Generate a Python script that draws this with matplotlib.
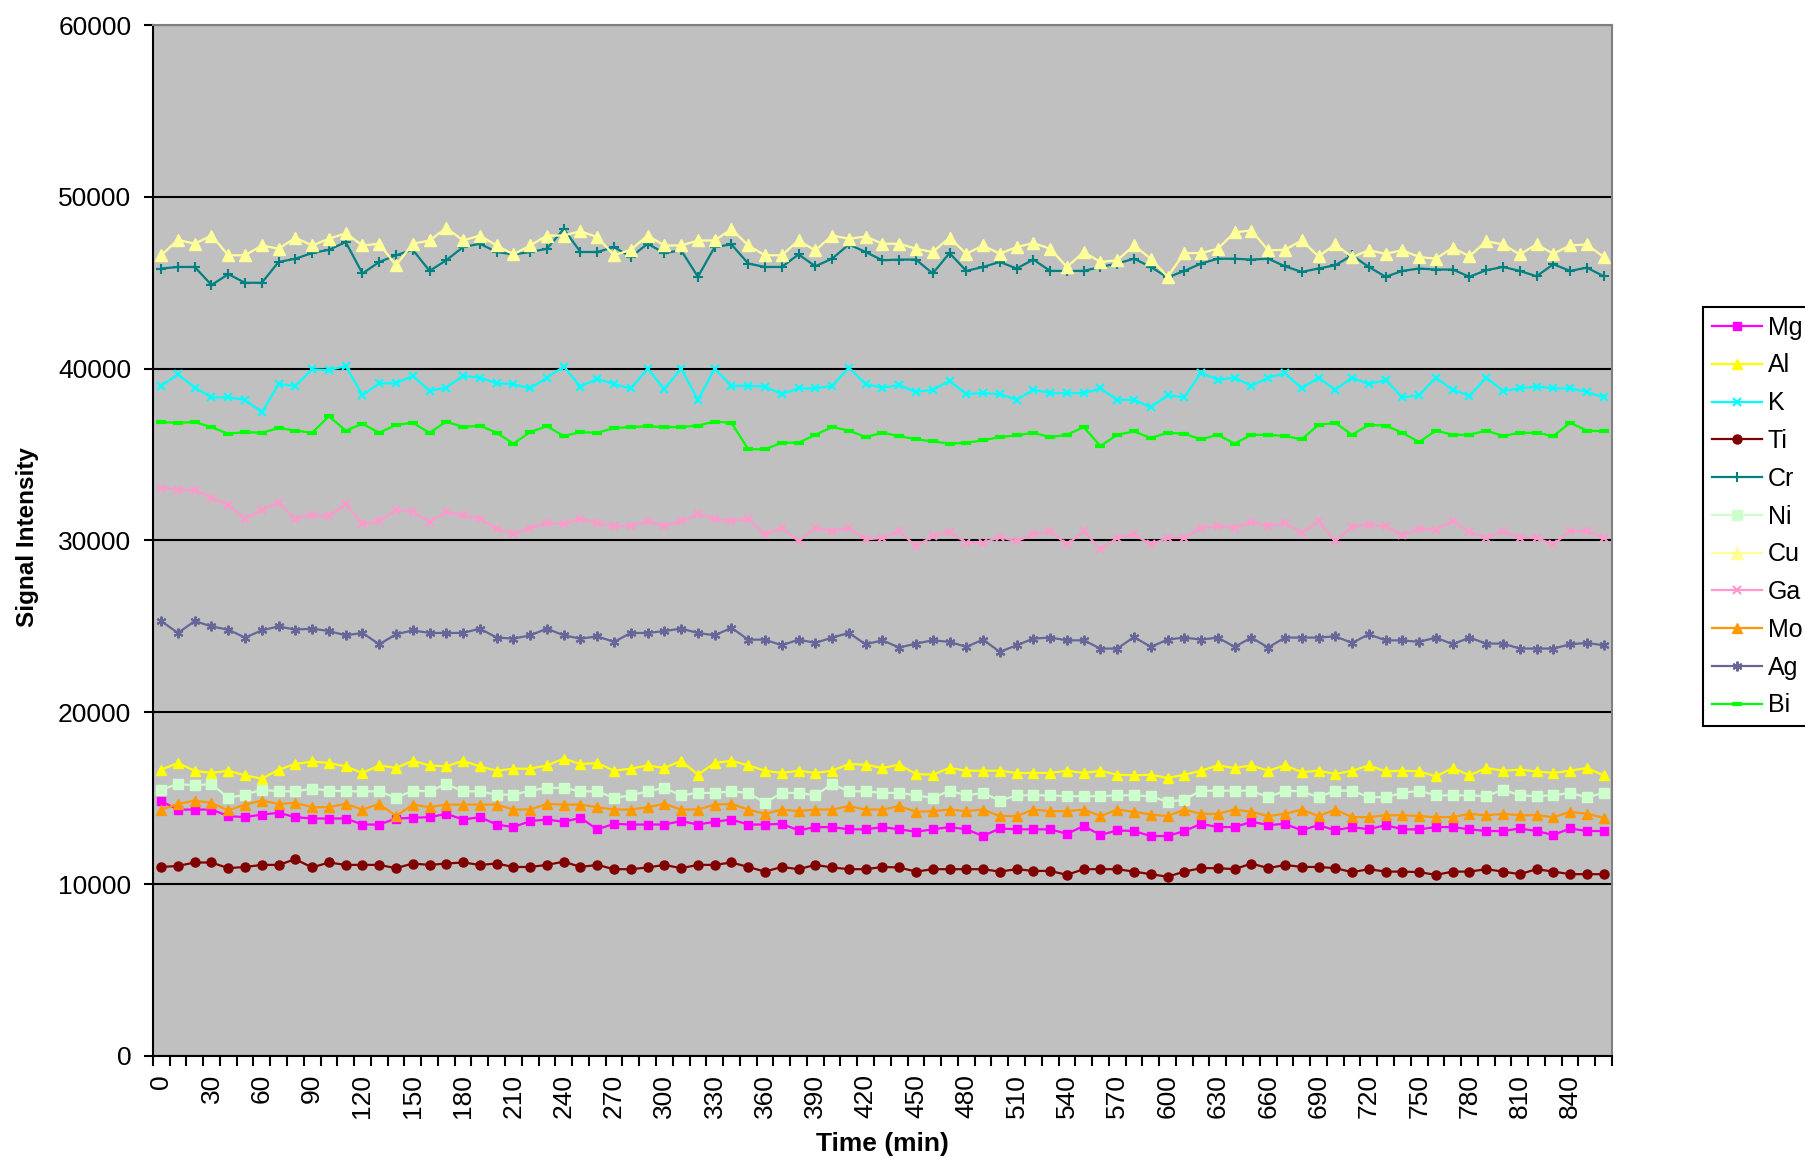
import numpy as np
import matplotlib
matplotlib.use("Agg")
import matplotlib.pyplot as plt
from matplotlib.ticker import FixedLocator, MultipleLocator

plt.rcParams['font.family'] = ['Liberation Sans', 'DejaVu Sans']

# sampling times (min), one point every 10 min
time_min = np.arange(0, 870, 10)
tick_labels = [str(t) for t in range(0, 841, 30)]

elements = ['Mg', 'Al', 'K', 'Ti', 'Cr', 'Ni', 'Cu', 'Ga', 'Mo', 'Ag', 'Bi']

mg = [14830, 14340, 14340, 14340, 13960, 13900, 14050, 14150, 13900, 13820,
      13820, 13820, 13470, 13470, 13820, 13860, 13900, 14090, 13760, 13900,
      13470, 13320, 13670, 13760, 13630, 13860, 13190, 13510, 13470, 13470,
      13470, 13670, 13470, 13630, 13760, 13470, 13470, 13510, 13130, 13320,
      13320, 13190, 13190, 13320, 13190, 13050, 13190, 13320, 13190, 12800,
      13240, 13190, 13190, 13190, 12930, 13380, 12860, 13130, 13090,
      12800, 12800, 13090, 13510, 13320, 13320, 13630, 13440, 13510, 13130,
      13440, 13130, 13320, 13190, 13440, 13190, 13190, 13320, 13320, 13190,
      13090, 13090, 13240, 13090, 12860, 13240, 13090, 13090]
al = [16660, 17050, 16600, 16470, 16600, 16330, 16140, 16660, 16990, 17140,
      17050, 16850, 16470, 16910, 16760, 17180, 16910, 16850, 17180, 16850,
      16600, 16720, 16720, 16910, 17300, 16990, 17050, 16600, 16720, 16910,
      16760, 17180, 16370, 17050, 17180, 16910, 16600, 16470, 16600, 16470,
      16600, 16990, 16950, 16760, 16950, 16410, 16370, 16760, 16600, 16600,
      16600, 16470, 16470, 16470, 16600, 16470, 16600, 16370, 16330,
      16370, 16180, 16370, 16600, 16910, 16760, 16910, 16600, 16910, 16520,
      16600, 16410, 16600, 16910, 16560, 16600, 16560, 16270, 16760, 16330,
      16760, 16600, 16660, 16560, 16470, 16600, 16760, 16330]
k = [39000, 39670, 38900, 38330, 38330, 38190, 37460, 39100, 39000, 39960,
     39920, 40150, 38460, 39150, 39150, 39580, 38710, 38900, 39580, 39480,
     39150, 39100, 38850, 39480, 40120, 38960, 39420, 39100, 38850, 40000,
     38810, 40000, 38190, 40000, 39000, 39000, 38960, 38520, 38850, 38850,
     39000, 40060, 39100,
     38900, 39040, 38650, 38770, 39290, 38520, 38580, 38520, 38190, 38770,
     38580, 38580, 38580, 38850, 38190, 38190, 37750, 38460, 38330, 39770,
     39350, 39480, 39000, 39480, 39730, 38850, 39480, 38770, 39480, 39100,
     39350, 38330, 38460, 39480, 38770, 38420, 39480, 38710, 38850, 38960,
     38850, 38850, 38650, 38330]
ti = [11000, 11060, 11260, 11260, 10930, 11000, 11120, 11120, 11450, 10970,
      11260, 11120, 11120, 11120, 10930, 11200, 11120, 11200, 11260, 11120,
      11200, 11000, 11000, 11120, 11310, 11000, 11120, 10870, 10870, 10970,
      11120, 10930, 11120, 11120, 11260, 11000, 10730, 11000, 10870, 11120,
      10970, 10870, 10870, 11000, 10970, 10730, 10870, 10870, 10870, 10870,
      10730, 10870, 10770, 10770, 10540, 10870, 10870, 10870, 10730,
      10580, 10430, 10730, 10930, 10930, 10870, 11200, 10930, 11120, 11000,
      11000, 10930, 10700, 10870, 10730, 10730, 10700, 10540, 10730, 10730,
      10870, 10730, 10580, 10870, 10730, 10580, 10580, 10580]
cr = [45830, 45920, 45920, 44870, 45500, 45000, 45000, 46210, 46400, 46730,
      46920, 47370, 45540, 46210, 46600, 46920, 45690, 46310, 47080, 47270,
      46790, 46650, 46790, 46980, 48130, 46790, 46790, 47080, 46500, 47270,
      46730, 46890, 45350, 47080, 47230, 46120, 45920, 45920, 46650, 45960,
      46400, 47230, 46790,
      46310, 46350, 46350, 45540, 46730, 45690, 45920, 46210, 45830, 46350,
      45690, 45690, 45690, 45920, 46120, 46400, 45920, 45310, 45690, 46120,
      46400, 46400, 46350, 46400, 45960, 45630, 45830, 46020, 46600, 45920,
      45350, 45690, 45830, 45770, 45770, 45350, 45730, 45920, 45690, 45380,
      46080, 45690, 45880, 45380]
ni = [15500, 15830, 15750, 15830, 15020, 15210, 15500, 15400, 15400, 15560,
      15440, 15400, 15400, 15400, 15020, 15440, 15400, 15830, 15400, 15400,
      15210, 15210, 15440, 15600, 15600, 15400, 15400, 15020, 15170, 15400,
      15600, 15170, 15310, 15310, 15400, 15310, 14730, 15310, 15310, 15170,
      15830, 15400, 15400, 15310, 15310, 15170, 15020, 15440, 15170, 15310,
      14860, 15170, 15170, 15170, 15120, 15120, 15120, 15170, 15170,
      15120, 14790, 14920, 15440, 15440, 15440, 15440, 15060, 15440, 15400,
      15060, 15440, 15440, 15060, 15060, 15310, 15440, 15170, 15170, 15170,
      15120, 15500, 15170, 15120, 15170, 15310, 15060, 15310]
cu = [46600, 47500, 47270, 47750, 46600, 46600, 47170, 46980, 47620, 47170,
      47560, 47880, 47170, 47270, 46020, 47270, 47460, 48190, 47460, 47750,
      47170, 46650, 47170, 47750, 47750, 48000, 47650, 46600, 46920, 47750,
      47170, 47170, 47460, 47460, 48130, 47170, 46600, 46600, 47460, 46880,
      47750, 47560, 47690,
      47270, 47270, 46980, 46790, 47620, 46690, 47170, 46690, 47080, 47310,
      46980, 45920, 46790, 46210, 46310, 47170, 46400, 45350, 46730, 46730,
      46980, 47940, 48040, 46890, 46920, 47460, 46540, 47230, 46500, 46890,
      46690, 46890, 46500, 46400, 47040, 46540, 47420, 47230, 46650, 47230,
      46690, 47170, 47230, 46500]
ga = [33080, 32940, 32940, 32500, 32040, 31270, 31790, 32170, 31270, 31500,
      31400, 32120, 30960, 31120, 31790, 31650, 31080, 31650, 31460, 31270,
      30690, 30380, 30730, 31020, 30960, 31270, 31020, 30830, 30830, 31150,
      30830, 31120, 31540, 31270, 31120, 31270, 30350, 30730, 29960, 30730,
      30540, 30730, 30060,
      30150, 30540, 29670, 30250, 30500, 29870, 29870, 30190, 29960, 30350,
      30540, 29770, 30540, 29480, 30150, 30350, 29770, 30150, 30150, 30730,
      30830, 30730, 31080, 30830, 31020, 30440, 31120, 29960, 30770, 30920,
      30830, 30310, 30690, 30640, 31120, 30500, 30150, 30540, 30150, 30150,
      29770, 30540, 30540, 30150]
mo = [14340, 14670, 14860, 14730, 14290, 14630, 14860, 14670, 14730, 14480,
      14480, 14670, 14340, 14670, 13960, 14630, 14480, 14630, 14630, 14630,
      14630, 14340, 14340, 14670, 14630, 14630, 14480, 14340, 14340, 14480,
      14670, 14340, 14340, 14630, 14670, 14340, 14090, 14340, 14250, 14340,
      14340, 14540, 14340, 14340, 14540, 14210, 14250, 14340, 14250, 14340,
      13960, 13960, 14340, 14250, 14250, 14340, 13960, 14340, 14210,
      14050, 13960, 14340, 14090, 14090, 14340, 14210, 13960, 14090, 14340,
      13960, 14340, 13900, 13900, 14010, 14010, 13960, 13900, 13900, 14090,
      14010, 14090, 14010, 14010, 13900, 14210, 14090, 13860]
ag = [25310, 24620, 25310, 25000, 24810, 24350, 24770, 25000, 24810, 24870,
      24730, 24480, 24620, 23960, 24540, 24770, 24620, 24620, 24620, 24870,
      24350, 24290, 24480, 24870, 24480, 24290, 24420, 24100, 24620, 24620,
      24730, 24870, 24620, 24480, 24920, 24230, 24230, 23900, 24230, 24040,
      24350, 24620, 23960,
      24190, 23770, 24000, 24190, 24100, 23810, 24230, 23520, 23900, 24290,
      24350, 24190, 24190, 23710, 23710, 24380, 23810, 24230, 24350, 24230,
      24350, 23810, 24350, 23770, 24350, 24350, 24350, 24420, 24040, 24540,
      24190, 24190, 24100, 24350, 23960, 24350, 24000, 24000, 23710, 23710,
      23710, 23960, 24040, 23900]
bi = [36890, 36850, 36890, 36600, 36210, 36310, 36270, 36540, 36400, 36270,
      37230, 36400, 36790, 36270, 36730, 36850, 36270, 36920, 36600, 36690,
      36270, 35640, 36310, 36650, 36080, 36310, 36270, 36540, 36600, 36650,
      36600, 36600, 36690, 36920, 36850, 35310, 35310, 35690, 35690, 36150,
      36600, 36400, 36020,
      36270, 36080, 35890, 35770, 35640, 35690, 35830, 36020, 36120, 36270,
      36020, 36150, 36600, 35500, 36150, 36350, 35960, 36270, 36210, 35890,
      36150, 35640, 36150, 36150, 36080, 35890, 36730, 36850, 36150, 36730,
      36690, 36270, 35730, 36400, 36150, 36150, 36400, 36080, 36270, 36270,
      36080, 36850, 36400, 36350]

series = [mg, al, k, ti, cr, ni, cu, ga, mo, ag, bi]

# Excel-like marker styles per element
styles = {
    'Mg': dict(color='#FF00FF', marker='s', ms=6),
    'Al': dict(color='#FFFF00', marker='^', ms=7),
    'K':  dict(color='#00FFFF', marker='x', ms=6, mew=1.5),
    'Ti': dict(color='#800000', marker='o', ms=6.5),
    'Cr': dict(color='#008080', marker='+', ms=7, mew=1.5),
    'Ni': dict(color='#CCFFCC', marker='s', ms=7),
    'Cu': dict(color='#FFFF99', marker='^', ms=8),
    'Ga': dict(color='#FF99CC', marker='x', ms=6, mew=1.5),
    'Mo': dict(color='#FF9900', marker='^', ms=7),
    'Ag': dict(color='#666699', marker=(6, 2, 0), ms=7, mew=1.5),
    'Bi': dict(color='#00FF00', marker='_', ms=7, mew=3),
}

fig = plt.figure(figsize=(18.06, 11.59), dpi=100)
ax = fig.add_axes([0.0846, 0.0889, 0.808, 0.8895])
ax.set_facecolor('#C0C0C0')

for name, vals in zip(elements, series):
    st = styles[name]
    ax.plot(time_min, vals, color=st['color'], lw=1.6, marker=st['marker'],
            ms=st['ms'], mew=st.get('mew', 1), mfc=st['color'], mec=st['color'],
            label=name)

ax.set_xlim(-5, 865)
ax.set_ylim(0, 60000)

# category-style x axis: labels every 30 min, tick marks between categories
ax.xaxis.set_major_locator(FixedLocator(range(0, 841, 30)))
ax.set_xticklabels(tick_labels, rotation=90, va='top', ha='center')
ax.xaxis.set_minor_locator(FixedLocator(np.arange(-5, 866, 10)))
ax.tick_params(axis='x', which='major', length=0, pad=13, labelsize=19)
ax.tick_params(axis='x', which='minor', length=7, width=1.5, color='black')

ax.yaxis.set_major_locator(MultipleLocator(10000))
ax.tick_params(axis='y', which='major', length=6.5, width=1.5, pad=9, labelsize=19)

ax.set_axisbelow(True)
ax.yaxis.grid(True, color='black', lw=1.5)

ax.spines['left'].set_color('black')
ax.spines['bottom'].set_color('black')
ax.spines['left'].set_linewidth(1.5)
ax.spines['bottom'].set_linewidth(1.5)
ax.spines['top'].set_color('#808080')
ax.spines['right'].set_color('#808080')
ax.spines['top'].set_linewidth(1.5)
ax.spines['right'].set_linewidth(1.5)

ax.set_xlabel('Time (min)', fontsize=19, fontweight='bold')
ax.xaxis.set_label_coords(0.5, -0.074)
ax.set_ylabel('Signal Intensity', fontsize=17.5, fontweight='bold')
ax.yaxis.set_label_coords(-0.078, 0.503)

leg = ax.legend(loc='upper left', bbox_to_anchor=(1703 / 1806, 1 - 307 / 1159),
                bbox_transform=fig.transFigure, frameon=True, fancybox=False,
                edgecolor='black', facecolor='white', framealpha=1,
                fontsize=18, handlelength=2.0, handletextpad=0.25,
                borderpad=0.35, labelspacing=0.55, borderaxespad=0)
leg.get_frame().set_linewidth(1.5)

fig.savefig('out.png', dpi=100)
